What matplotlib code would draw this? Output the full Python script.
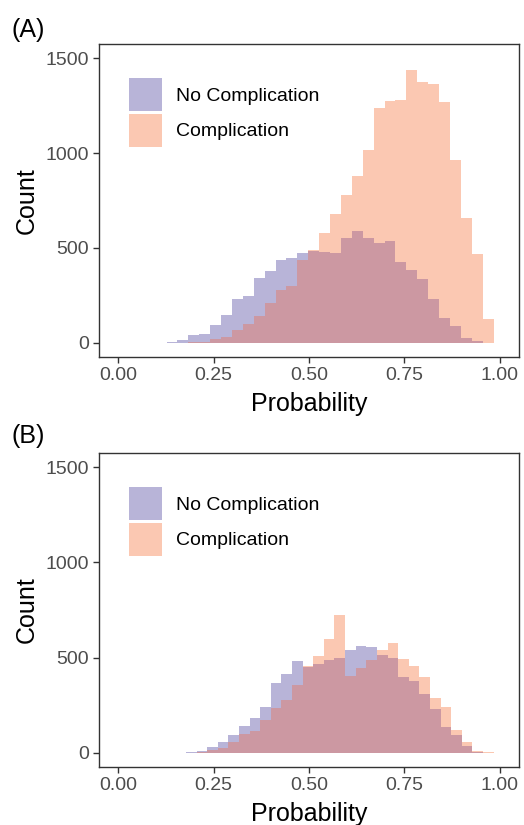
import matplotlib
matplotlib.use("Agg")
import matplotlib.pyplot as plt
from matplotlib.patches import Patch
import numpy as np

# histogram counts, 30 bins each
no_comp_a = [3, 14, 39, 45, 93, 144, 228, 245, 341, 380, 438, 446, 475, 483, 480, 473, 554, 589, 551, 527, 537, 426, 385, 337, 228, 131, 90, 26, 7, 0]
comp_a = [0, 1, 3, 5, 21, 30, 65, 101, 140, 208, 276, 300, 436, 491, 576, 680, 778, 881, 1017, 1240, 1276, 1281, 1437, 1372, 1362, 1269, 965, 656, 467, 126]
no_comp_b = [1, 2, 11, 28, 54, 91, 140, 184, 240, 367, 416, 484, 450, 465, 486, 500, 539, 561, 553, 512, 500, 396, 375, 309, 228, 135, 91, 35, 4, 1]
comp_b = [1, 1, 6, 16, 25, 54, 98, 112, 170, 235, 275, 354, 458, 509, 600, 726, 404, 447, 486, 542, 577, 493, 454, 398, 289, 238, 121, 56, 10, 2]

# bin ranges of the two histograms
range_a = (0.127, 0.984)
range_b = (0.150, 0.984)

labels = ["No Complication", "Complication"]
purple = "#b8b4d8"
peach = "#fbc8b2"
overlap = "#cc98a2"

plt.rcParams["font.family"] = ["Liberation Sans", "DejaVu Sans"]


def draw_panel(ax, no_comp, comp, rng):
    edges = np.linspace(rng[0], rng[1], len(no_comp) + 1)
    no_comp = np.array(no_comp)
    comp = np.array(comp)
    ax.stairs(no_comp, edges, fill=True, color=purple, lw=0)
    ax.stairs(comp, edges, fill=True, color=peach, lw=0)
    ax.stairs(np.minimum(no_comp, comp), edges, fill=True, color=overlap, lw=0)

    ax.set_xlim(-0.05, 1.05)
    ax.set_ylim(-75, 1575)
    ax.set_xticks([0, 0.25, 0.5, 0.75, 1.0])
    ax.set_xticklabels(["0.00", "0.25", "0.50", "0.75", "1.00"])
    ax.set_yticks([0, 500, 1000, 1500])
    ax.tick_params(length=4, width=1, color="#333333", labelcolor="#4d4d4d",
                   labelsize=14, pad=3)
    for s in ax.spines.values():
        s.set_color("#333333")
        s.set_linewidth(1)
    ax.set_xlabel("Probability", fontsize=18, labelpad=6)
    ax.set_ylabel("Count", fontsize=18, labelpad=5)

    handles = [Patch(color=purple, lw=0), Patch(color=peach, lw=0)]
    ax.legend(handles, labels, loc="upper left", bbox_to_anchor=(0.071, 0.891),
              frameon=False, fontsize=14, borderpad=0, borderaxespad=0,
              handlelength=1.7, handleheight=2.23, handletextpad=0.7,
              labelspacing=0.14)


fig = plt.figure(figsize=(5.24, 8.25), dpi=100)
ax1 = fig.add_axes([0.189, 0.5673, 0.801, 0.3794])
ax2 = fig.add_axes([0.189, 0.0703, 0.801, 0.3806])

draw_panel(ax1, no_comp_a, comp_a, range_a)
draw_panel(ax2, no_comp_b, comp_b, range_b)

fig.text(0.021, 0.964, "(A)", fontsize=18, va="center", ha="left")
fig.text(0.021, 0.472, "(B)", fontsize=18, va="center", ha="left")

fig.savefig("out.png", dpi=100)
